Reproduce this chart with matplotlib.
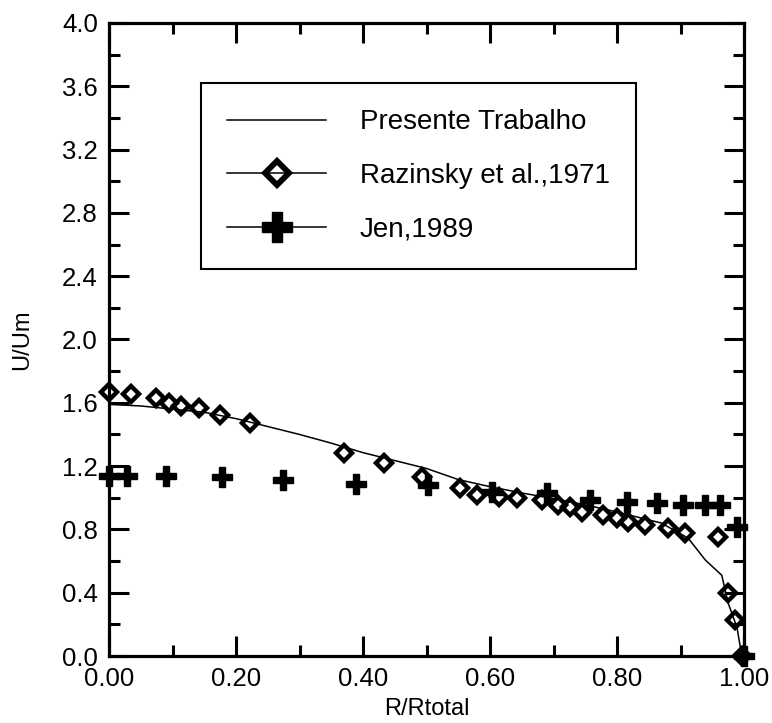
import numpy as np
import matplotlib
matplotlib.use("Agg")
import matplotlib.pyplot as plt
from matplotlib.lines import Line2D
from matplotlib.ticker import MultipleLocator, FormatStrFormatter

plt.rcParams['font.family'] = ['Liberation Sans', 'DejaVu Sans']

# Presente Trabalho (linha)
r_pres = [0.0, 0.05, 0.10, 0.15, 0.20, 0.25, 0.30, 0.35, 0.40, 0.45, 0.50, 0.55,
          0.60, 0.65, 0.70, 0.75, 0.80, 0.85, 0.87, 0.912, 0.939, 0.965, 0.975,
          0.989, 0.994, 1.0]
u_pres = [1.59, 1.58, 1.56, 1.54, 1.50, 1.45, 1.40, 1.345, 1.285, 1.235, 1.185, 1.115,
          1.07, 1.03, 0.995, 0.955, 0.91, 0.86, 0.84, 0.745, 0.607, 0.51, 0.335,
          0.18, 0.06, 0.0]

# Razinsky et al., 1971
r_raz = [0.0, 0.035, 0.074, 0.095, 0.113, 0.142, 0.175, 0.222, 0.370, 0.433,
         0.493, 0.553, 0.58, 0.614, 0.643, 0.682, 0.707, 0.726, 0.745, 0.778,
         0.80, 0.817, 0.844, 0.88, 0.907, 0.959, 0.975, 0.986, 0.997]
u_raz = [1.668, 1.656, 1.63, 1.60, 1.58, 1.567, 1.523, 1.47, 1.283, 1.22,
         1.13, 1.06, 1.02, 1.005, 1.0, 0.986, 0.955, 0.94, 0.91, 0.89,
         0.87, 0.847, 0.83, 0.81, 0.78, 0.75, 0.40, 0.23, 0.0]

# Jen, 1989
r_jen = [0.0, 0.028, 0.09, 0.178, 0.274, 0.389, 0.503, 0.603, 0.69, 0.757,
         0.816, 0.863, 0.904, 0.939, 0.962, 0.989, 1.0]
u_jen = [1.137, 1.137, 1.14, 1.13, 1.11, 1.09, 1.08, 1.035, 1.03, 0.986,
         0.975, 0.965, 0.955, 0.955, 0.955, 0.815, 0.0]

fig = plt.figure(figsize=(7.72, 7.23), dpi=100)
ax = fig.add_axes([109/772, 67/723, 635/772, 633/723])

ax.plot(r_pres, u_pres, color='black', lw=1.1)
ax.plot(r_raz, u_raz, ls='none', marker='D', ms=8, mfc='none', mec='black',
        mew=3.2, clip_on=False, zorder=4)
ax.plot(r_jen, u_jen, ls='none', marker='P', ms=15, mfc='black', mec='black',
        mew=1, clip_on=False, zorder=5)

ax.set_xlim(0, 1)
ax.set_ylim(0, 4)
ax.xaxis.set_major_locator(MultipleLocator(0.2))
ax.xaxis.set_minor_locator(MultipleLocator(0.1))
ax.yaxis.set_major_locator(MultipleLocator(0.4))
ax.yaxis.set_minor_locator(MultipleLocator(0.2))
ax.xaxis.set_major_formatter(FormatStrFormatter('%.2f'))
ax.yaxis.set_major_formatter(FormatStrFormatter('%.1f'))

for s in ax.spines.values():
    s.set_linewidth(2.3)
ax.tick_params(which='both', direction='in', top=True, right=True, width=2.2)
ax.tick_params(which='major', length=14.5, labelsize=18.5)
ax.tick_params(which='minor', length=8)
ax.tick_params(axis='x', pad=8)
ax.tick_params(axis='y', pad=8)

ax.set_xlabel('R/Rtotal', fontsize=17)
ax.set_ylabel('U/Um', fontsize=17)
ax.xaxis.set_label_coords(0.5, -0.066)
ax.yaxis.set_label_coords(-0.12, 0.5)

handles = [
    Line2D([], [], color='black', lw=1.1),
    Line2D([], [], color='black', lw=1.1, marker='D', ms=12, mfc='none',
           mec='black', mew=4.2),
    Line2D([], [], color='black', lw=1.1, marker='P', ms=22, mfc='black',
           mec='black', mew=1),
]
labels = ['Presente Trabalho', 'Razinsky et al.,1971', 'Jen,1989']
leg = ax.legend(handles, labels, loc='upper left',
                bbox_to_anchor=(201/772, 1 - 83/723), bbox_transform=fig.transFigure,
                fontsize=20, frameon=True, fancybox=False, framealpha=1,
                edgecolor='black', handlelength=3.56, handletextpad=1.2,
                borderpad=0.95, labelspacing=1.0, borderaxespad=0)
leg.get_frame().set_linewidth(1.5)

fig.savefig('out.png', dpi=100)
